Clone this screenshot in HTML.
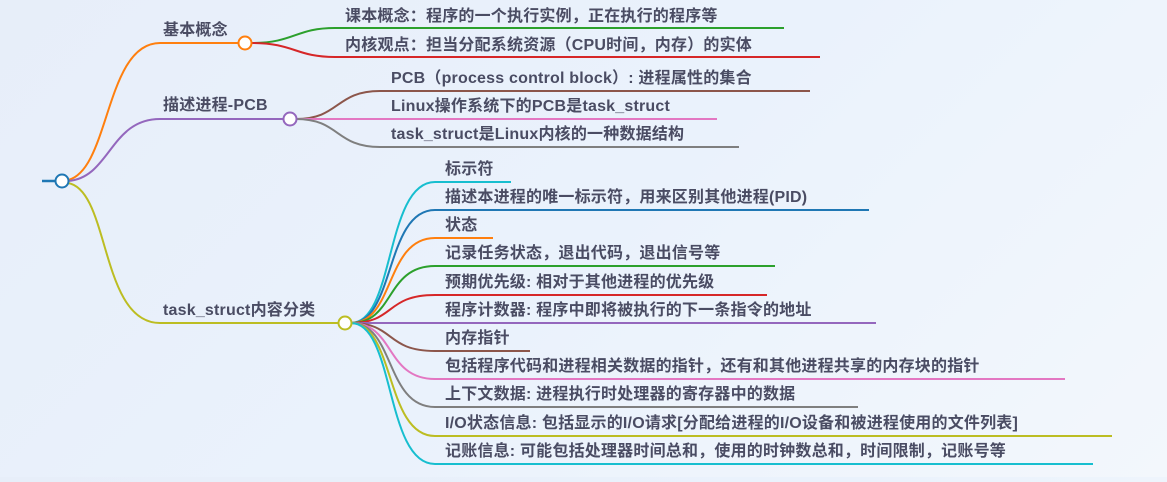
<!DOCTYPE html>
<html><head><meta charset="utf-8"><style>
html,body{margin:0;padding:0;}
body{width:1167px;height:477px;overflow:hidden;background:linear-gradient(135deg,#e7eef9 0%,#eaf2fc 50%,#f3f7fc 100%);}
svg text{font-family:"Liberation Sans","Noto Sans CJK SC",sans-serif;font-size:16px;font-weight:bold;fill:#4a4c63;letter-spacing:0.2px;}
</style></head><body>
<svg width="1167" height="477" xmlns="http://www.w3.org/2000/svg" fill="none" stroke-width="2">
<line x1="42" y1="181" x2="56" y2="181" stroke="#1f77b4" stroke-width="2.5"/>
<path d="M68 180 C110 170,105 43,160 43 L238 43" stroke="#ff7f0e"/>
<path d="M68 181 C110 178,110 119,160 119 L283 119" stroke="#9467bd"/>
<path d="M68 183 C110 190,100 323,160 323 L338 323" stroke="#bcbd22"/>
<path d="M251 43 C295 43,295 28,335 28 L784 28" stroke="#2ca02c"/>
<path d="M251 43 C295 43,295 57,335 57 L820 57" stroke="#d62728"/>
<path d="M296 119 C340 119,335 91,380 91 L810 91" stroke="#8c564b"/>
<path d="M296 119 L717 119" stroke="#e377c2"/>
<path d="M296 119 C340 119,335 147,380 147 L739 147" stroke="#7f7f7f"/>
<g>
<path d="M351 323 C395 323,385 182,435 182 L511 182" stroke="#17becf"/>
<path d="M351 323 C395 323,385 210,435 210 L869 210" stroke="#1f77b4"/>
<path d="M351 323 C395 323,385 238,435 238 L493 238" stroke="#ff7f0e"/>
<path d="M351 323 C395 323,385 266,435 266 L775 266" stroke="#2ca02c"/>
<path d="M351 323 C395 323,385 295,435 295 L767 295" stroke="#d62728"/>
<path d="M351 323 L876 323" stroke="#9467bd"/>
<path d="M351 323 C395 323,385 351,435 351 L530 351" stroke="#8c564b"/>
<path d="M351 323 C395 323,385 379,435 379 L1065 379" stroke="#e377c2"/>
<path d="M351 323 C395 323,385 407,435 407 L858 407" stroke="#7f7f7f"/>
<path d="M351 323 C395 323,385 436,435 436 L1112 436" stroke="#bcbd22"/>
<path d="M351 323 C395 323,385 464,435 464 L1093 464" stroke="#17becf"/>
</g>
<circle cx="62" cy="181" r="6.5" fill="#fff" stroke="#1f77b4" stroke-width="2"/>
<circle cx="245" cy="43" r="6.5" fill="#fff" stroke="#ff7f0e" stroke-width="2"/>
<circle cx="290" cy="119" r="6.5" fill="#fff" stroke="#9467bd" stroke-width="2"/>
<circle cx="345" cy="323" r="6.5" fill="#fff" stroke="#bcbd22" stroke-width="2"/>
<text x="163" y="35">基本概念</text>
<text x="163" y="110">描述进程-PCB</text>
<text x="163" y="315">task_struct内容分类</text>
<text x="345" y="21">课本概念：程序的一个执行实例，正在执行的程序等</text>
<text x="345" y="50">内核观点：担当分配系统资源（CPU时间，内存）的实体</text>
<text x="391" y="83">PCB（process control block）: 进程属性的集合</text>
<text x="391" y="111">Linux操作系统下的PCB是task_struct</text>
<text x="391" y="139">task_struct是Linux内核的一种数据结构</text>
<text x="445" y="174">标示符</text>
<text x="445" y="202">描述本进程的唯一标示符，用来区别其他进程(PID)</text>
<text x="445" y="230">状态</text>
<text x="445" y="258">记录任务状态，退出代码，退出信号等</text>
<text x="445" y="287">预期优先级: 相对于其他进程的优先级</text>
<text x="445" y="315">程序计数器: 程序中即将被执行的下一条指令的地址</text>
<text x="445" y="343">内存指针</text>
<text x="445" y="371">包括程序代码和进程相关数据的指针，还有和其他进程共享的内存块的指针</text>
<text x="445" y="399">上下文数据: 进程执行时处理器的寄存器中的数据</text>
<text x="445" y="428">I/O状态信息: 包括显示的I/O请求[分配给进程的I/O设备和被进程使用的文件列表]</text>
<text x="445" y="456">记账信息: 可能包括处理器时间总和，使用的时钟数总和，时间限制，记账号等</text>
</svg>
</body></html>
